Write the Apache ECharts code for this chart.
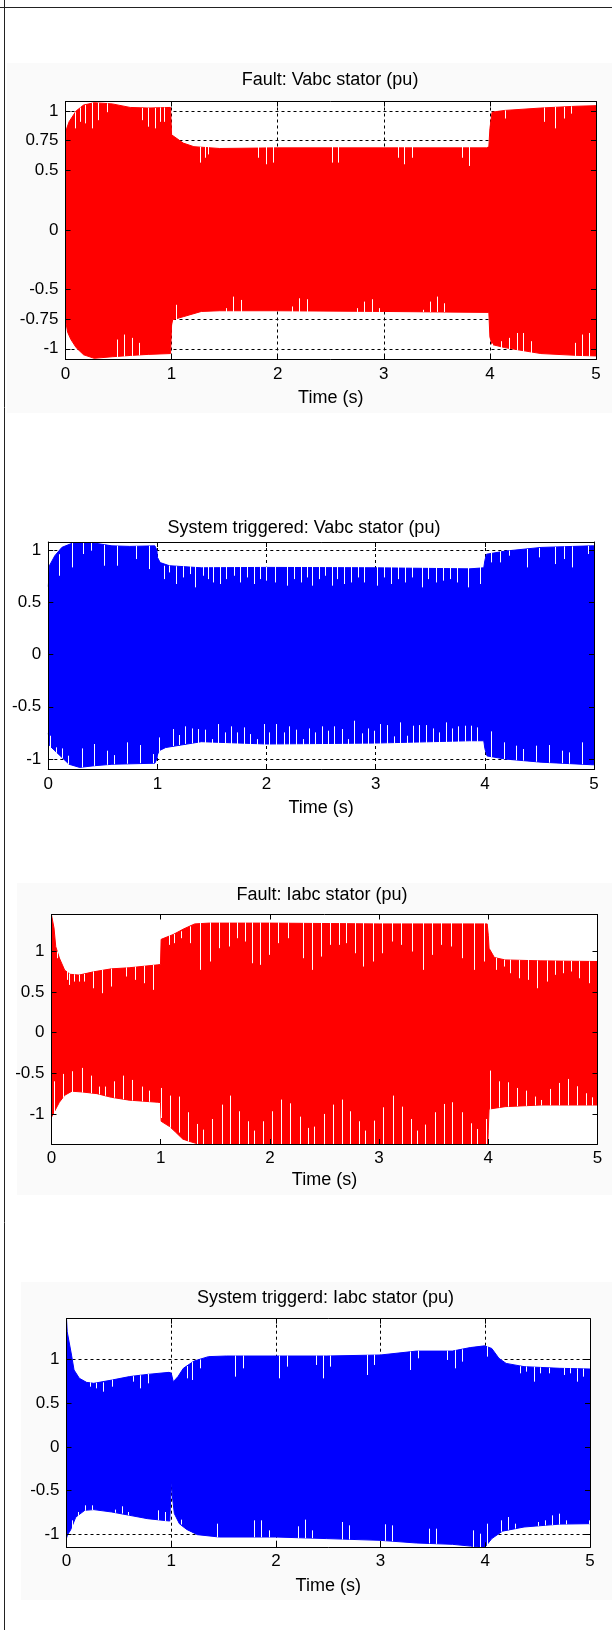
<!DOCTYPE html>
<html><head><meta charset="utf-8">
<script src="https://cdn.jsdelivr.net/npm/echarts@6/dist/echarts.min.js"></script>
<style>html,body{margin:0;padding:0;background:#fff}#c{width:612px;height:1630px}</style>
</head><body><div id="c"></div><script>
// ---------------- data ----------------
const titles = ['Fault: Vabc stator (pu)', 'System triggered: Vabc stator (pu)', 'Fault: Iabc stator (pu)', 'System triggerd: Iabc stator (pu)'];
const xLabel = 'Time (s)';
const xTicks = [0, 1, 2, 3, 4, 5];
const gridX = [1, 2, 3, 4];
const yTicksP1 = [-1, -0.75, -0.5, 0, 0.5, 0.75, 1];
const yTicks = [-1, -0.5, 0, 0.5, 1];
const yRanges = [[-1.09, 1.08], [-1.1, 1.077], [-1.37, 1.456], [-1.144, 1.459]];

// envelopes [time, value]
const p1Upper = [[0,0.64],[0.01,0.85],[0.034,0.91],[0.1,1.0],[0.17,1.05],[0.27,1.07],[0.44,1.06],[0.61,1.03],[0.78,1.025],[0.99,1.03],[1.0,0.8],[1.01,0.785],[1.11,0.73],[1.21,0.70],[1.45,0.685],[2.0,0.69],[3.0,0.69],[3.97,0.69],[3.99,0.70],[4.0,0.85],[4.02,0.99],[4.14,1.005],[4.48,1.025],[4.81,1.04],[5.0,1.045]];
const p1Lower = [[0,-0.76],[0.02,-0.86],[0.05,-0.92],[0.1,-0.99],[0.17,-1.05],[0.27,-1.08],[0.44,-1.067],[0.61,-1.056],[0.78,-1.047],[0.99,-1.04],[1.0,-0.8],[1.01,-0.756],[1.11,-0.73],[1.28,-0.686],[1.45,-0.68],[2.0,-0.68],[3.0,-0.686],[3.99,-0.694],[4.0,-0.9],[4.02,-0.964],[4.14,-0.99],[4.48,-1.04],[4.81,-1.055],[5.0,-1.06]];
// spikes [time, tip, base]
const p1SpikesUp = [[0.091,0.854,0.99],[0.135,0.909,1.03],[0.185,0.896,1.05],[0.253,0.854,1.07],[0.303,0.923,1.07],[0.387,0.99,1.065],[0.724,0.923,1.025],[0.774,0.868,1.025],[0.842,0.854,1.025],[0.892,0.909,1.03],[0.926,0.909,1.03],
 [1.269,0.566,0.70],[1.313,0.607,0.70],[1.347,0.635,0.70],[1.818,0.607,0.70],[1.892,0.552,0.70],[1.953,0.566,0.70],[2.515,0.566,0.70],[2.569,0.566,0.70],[3.131,0.607,0.70],[3.192,0.552,0.70],[3.266,0.607,0.70],[3.737,0.607,0.70],[3.805,0.538,0.70],
 [4.141,0.937,1.005],[4.512,0.909,1.03],[4.613,0.854,1.035],[4.697,0.937,1.035],[4.764,0.978,1.04]];
const p1SpikesDown = [[0.488,-0.922,-1.07],[0.556,-0.88,-1.065],[0.623,-0.908,-1.06],[0.69,-0.95,-1.055],[1.037,-0.63,-0.76],[1.515,-0.658,-0.69],[1.582,-0.561,-0.69],[1.65,-0.589,-0.69],[2.138,-0.644,-0.69],[2.199,-0.575,-0.69],[2.273,-0.583,-0.69],[2.744,-0.658,-0.69],[2.811,-0.603,-0.69],[2.889,-0.583,-0.69],[2.956,-0.658,-0.69],[3.374,-0.672,-0.69],[3.434,-0.603,-0.69],[3.502,-0.561,-0.69],[3.569,-0.617,-0.69],
 [4.024,-0.956,-0.975],[4.108,-0.936,-0.995],[4.182,-0.908,-1.005],[4.253,-0.867,-1.015],[4.316,-0.867,-1.025],[4.384,-0.936,-1.035],[4.805,-0.95,-1.06],[4.872,-0.88,-1.062],[4.933,-0.867,-1.065]];

const p2Upper = [[0,0.65],[0.01,0.85],[0.06,0.946],[0.125,1.026],[0.223,1.067],[0.42,1.067],[0.583,1.04],[0.747,1.035],[0.976,1.04],[0.995,1.0],[1.0,0.93],[1.025,0.88],[1.11,0.85],[1.402,0.83],[2.0,0.834],[3.0,0.83],[3.86,0.82],[3.99,0.83],[4.0,0.9],[4.015,0.96],[4.187,0.99],[4.515,1.025],[4.97,1.04],[5.0,1.04]];
const p2Lower = [[0,-0.75],[0.01,-0.87],[0.06,-0.92],[0.125,-0.984],[0.19,-1.05],[0.288,-1.08],[0.42,-1.064],[0.583,-1.05],[0.976,-1.04],[0.995,-1.0],[1.0,-0.96],[1.016,-0.92],[1.075,-0.89],[1.402,-0.834],[2.0,-0.856],[3.0,-0.847],[3.86,-0.825],[3.99,-0.825],[4.0,-0.9],[4.02,-0.97],[4.187,-1.0],[4.515,-1.03],[4.97,-1.054],[5.0,-1.055]];
const p2SpikesUp = [[0.098,0.754,0.96],[0.213,0.834,1.07],[0.321,0.962,1.07],[0.387,0.994,1.07],[0.511,0.85,1.05],[0.632,0.85,1.04],[0.806,0.914,1.04],[0.927,0.818,1.04],
 [1.058,0.722,0.85],[1.107,0.786,0.85],[1.166,0.675,0.845],[1.232,0.738,0.845],[1.298,0.77,0.845],[1.347,0.643,0.845],[1.419,0.754,0.845],[1.461,0.722,0.845],[1.51,0.69,0.845],[1.576,0.675,0.845],[1.632,0.722,0.845],[1.697,0.754,0.845],[1.756,0.69,0.845],[1.822,0.738,0.845],[1.884,0.675,0.845],[1.943,0.722,0.845],[1.992,0.707,0.845],[2.081,0.69,0.845],[2.189,0.659,0.845],[2.254,0.722,0.845],[2.313,0.69,0.845],[2.369,0.738,0.845],[2.418,0.659,0.845],[2.484,0.722,0.845],[2.533,0.754,0.845],[2.598,0.659,0.845],[2.647,0.722,0.845],[2.713,0.675,0.845],[2.772,0.69,0.845],[2.837,0.738,0.845],[2.893,0.69,0.845],[3.008,0.659,0.845],[3.073,0.738,0.845],[3.139,0.675,0.845],[3.204,0.722,0.845],[3.27,0.69,0.845],[3.335,0.738,0.845],[3.427,0.643,0.845],[3.483,0.722,0.845],[3.548,0.69,0.845],[3.614,0.707,0.845],[3.68,0.722,0.845],[3.745,0.69,0.845],[3.843,0.643,0.835],[3.958,0.675,0.84],
 [4.056,0.882,0.975],[4.138,0.882,0.99],[4.22,0.946,0.995],[4.384,0.834,1.01],[4.499,0.93,1.02],[4.646,0.866,1.03],[4.728,0.914,1.035],[4.8,0.834,1.035],[4.941,0.962,1.04]];
const p2SpikesDown = [[0.02,-0.777,-0.9],[0.075,-0.888,-0.94],[0.125,-0.898,-0.99],[0.183,-0.968,-1.05],[0.305,-0.898,-1.08],[0.419,-0.856,-1.065],[0.534,-0.92,-1.055],[0.6,-0.962,-1.05],[0.721,-0.84,-1.045],[0.839,-0.866,-1.04],[0.96,-0.952,-1.04],
 [1.016,-0.793,-0.93],[1.14,-0.713,-0.875],[1.199,-0.77,-0.865],[1.255,-0.687,-0.855],[1.32,-0.707,-0.85],[1.376,-0.713,-0.85],[1.435,-0.719,-0.85],[1.5,-0.809,-0.855],[1.556,-0.665,-0.86],[1.622,-0.745,-0.86],[1.671,-0.687,-0.86],[1.73,-0.745,-0.86],[1.789,-0.697,-0.865],[1.851,-0.761,-0.865],[1.91,-0.809,-0.865],[1.976,-0.665,-0.865],[2.025,-0.745,-0.865],[2.09,-0.665,-0.865],[2.156,-0.745,-0.865],[2.205,-0.687,-0.865],[2.271,-0.719,-0.865],[2.33,-0.809,-0.865],[2.385,-0.707,-0.86],[2.444,-0.745,-0.86],[2.507,-0.687,-0.86],[2.559,-0.729,-0.86],[2.621,-0.687,-0.86],[2.687,-0.713,-0.86],[2.746,-0.809,-0.86],[2.805,-0.633,-0.86],[2.87,-0.754,-0.86],[2.926,-0.707,-0.86],[2.982,-0.729,-0.86],[3.041,-0.665,-0.855],[3.1,-0.675,-0.855],[3.165,-0.783,-0.855],[3.221,-0.649,-0.855],[3.286,-0.777,-0.855],[3.342,-0.681,-0.85],[3.401,-0.675,-0.85],[3.457,-0.675,-0.85],[3.522,-0.707,-0.85],[3.581,-0.745,-0.845],[3.64,-0.649,-0.845],[3.696,-0.707,-0.84],[3.755,-0.687,-0.84],[3.82,-0.681,-0.835],[3.876,-0.681,-0.835],[3.932,-0.697,-0.835],
 [4.056,-0.735,-0.98],[4.178,-0.84,-1.0],[4.286,-0.872,-1.01],[4.351,-0.904,-1.015],[4.466,-0.872,-1.025],[4.59,-0.866,-1.035],[4.705,-0.92,-1.04],[4.77,-0.936,-1.045],[4.892,-0.84,-1.05]];

const p3Upper = [[0,1.45],[0.007,1.45],[0.023,1.29],[0.039,1.06],[0.072,0.92],[0.121,0.77],[0.17,0.72],[0.252,0.71],[0.384,0.75],[0.548,0.787],[0.711,0.80],[0.974,0.836],[0.998,0.84],[1.004,1.15],[1.016,1.17],[1.115,1.21],[1.213,1.28],[1.311,1.34],[1.443,1.35],[2.0,1.35],[3.0,1.34],[3.99,1.34],[4.0,1.2],[4.007,1.04],[4.056,0.926],[4.154,0.897],[4.482,0.885],[5.0,0.877]];
const p3Lower = [[0,-1.04],[0.007,-1.04],[0.039,-0.94],[0.072,-0.856],[0.121,-0.77],[0.187,-0.72],[0.285,-0.73],[0.416,-0.75],[0.548,-0.795],[0.711,-0.83],[0.974,-0.856],[0.998,-0.86],[1.004,-1.09],[1.016,-1.10],[1.082,-1.156],[1.138,-1.226],[1.203,-1.31],[1.269,-1.34],[1.367,-1.38],[3.995,-1.38],[4.0,-1.2],[4.007,-0.94],[4.154,-0.91],[4.482,-0.89],[5.0,-0.89]];
const p3SpikesUp = [[0.046,0.918,1.0],[0.138,0.651,0.76],[0.164,0.589,0.73],[0.203,0.63,0.72],[0.252,0.63,0.715],[0.302,0.63,0.725],[0.377,0.548,0.755],[0.466,0.487,0.775],[0.548,0.569,0.79],[0.679,0.692,0.805],[0.761,0.651,0.815],[0.843,0.61,0.825],[0.934,0.528,0.835],
 [1.072,1.082,1.2],[1.121,1.103,1.215],[1.187,1.164,1.25],[1.269,1.103,1.31],[1.361,0.774,1.36],[1.449,0.877,1.36],[1.531,1.041,1.36],[1.623,1.062,1.36],[1.695,1.164,1.36],[1.77,1.123,1.36],[1.833,0.856,1.36],[1.908,0.836,1.36],[1.99,0.959,1.36],[2.072,1.103,1.36],[2.17,1.164,1.36],[2.302,0.918,1.36],[2.384,0.774,1.36],[2.466,0.938,1.36],[2.548,1.082,1.36],[2.63,1.082,1.36],[2.695,1.103,1.36],[2.777,0.979,1.36],[2.852,0.815,1.36],[2.941,0.877,1.36],[3.023,0.979,1.36],[3.121,1.123,1.36],[3.203,1.082,1.36],[3.302,1.0,1.36],[3.4,0.774,1.36],[3.482,0.959,1.36],[3.564,1.082,1.36],[3.662,1.062,1.36],[3.761,0.918,1.36],[3.866,0.774,1.36],[3.957,0.877,1.36],
 [4.072,0.774,0.92],[4.144,0.815,0.9],[4.203,0.733,0.9],[4.285,0.671,0.895],[4.367,0.651,0.895],[4.449,0.548,0.89],[4.538,0.63,0.89],[4.613,0.713,0.888],[4.685,0.733,0.886],[4.761,0.754,0.884],[4.833,0.671,0.882],[4.918,0.61,0.88]];
const p3SpikesDown = [[0.023,-0.598,-1.0],[0.105,-0.507,-0.8],[0.187,-0.474,-0.73],[0.275,-0.433,-0.735],[0.361,-0.528,-0.745],[0.439,-0.663,-0.76],[0.489,-0.663,-0.775],[0.57,-0.598,-0.8],[0.656,-0.528,-0.82],[0.738,-0.581,-0.835],[0.826,-0.663,-0.845],[0.892,-0.713,-0.85],[1.0,-0.68,-1.05],
 [1.089,-0.774,-1.17],[1.17,-0.786,-1.23],[1.252,-0.979,-1.34],[1.334,-1.123,-1.38],[1.39,-1.193,-1.38],[1.472,-1.062,-1.38],[1.557,-0.885,-1.38],[1.639,-0.774,-1.38],[1.721,-0.967,-1.38],[1.803,-1.09,-1.38],[1.852,-1.205,-1.38],[1.938,-1.09,-1.38],[2.023,-0.967,-1.38],[2.105,-0.823,-1.38],[2.187,-0.869,-1.38],[2.272,-1.033,-1.38],[2.351,-1.172,-1.38],[2.407,-1.156,-1.38],[2.492,-1.0,-1.38],[2.574,-0.885,-1.38],[2.656,-0.823,-1.38],[2.738,-0.967,-1.38],[2.82,-1.09,-1.38],[2.875,-1.205,-1.38],[2.957,-1.082,-1.38],[3.039,-0.918,-1.38],[3.125,-0.774,-1.38],[3.207,-0.91,-1.38],[3.289,-1.062,-1.38],[3.351,-1.205,-1.38],[3.423,-1.131,-1.38],[3.508,-0.979,-1.38],[3.59,-0.877,-1.38],[3.672,-0.856,-1.38],[3.761,-0.979,-1.38],[3.843,-1.115,-1.38],[3.898,-1.185,-1.38],[3.98,-1.062,-1.38],
 [4.013,-0.466,-0.95],[4.095,-0.598,-0.92],[4.177,-0.61,-0.91],[4.262,-0.68,-0.905],[4.344,-0.713,-0.9],[4.43,-0.786,-0.895],[4.482,-0.828,-0.895],[4.564,-0.692,-0.895],[4.643,-0.618,-0.895],[4.728,-0.569,-0.895],[4.81,-0.659,-0.895],[4.892,-0.745,-0.895],[4.948,-0.795,-0.895]];

const p4Upper = [[0,1.46],[0.007,1.31],[0.021,1.30],[0.048,1.045],[0.072,0.875],[0.123,0.78],[0.192,0.734],[0.26,0.723],[0.432,0.76],[0.603,0.80],[0.774,0.825],[0.979,0.848],[1.0,0.84],[1.02,0.742],[1.065,0.80],[1.116,0.894],[1.219,0.977],[1.356,1.027],[1.527,1.034],[2.0,1.034],[2.486,1.034],[3.0,1.046],[3.342,1.09],[3.685,1.09],[3.856,1.13],[3.993,1.15],[4.062,1.12],[4.13,1.008],[4.199,0.95],[4.37,0.913],[4.712,0.894],[5.0,0.886]];
const p4Lower = [[0,-1.04],[0.01,-1.0],[0.038,-0.95],[0.089,-0.80],[0.175,-0.723],[0.26,-0.715],[0.432,-0.742],[0.603,-0.78],[0.774,-0.818],[0.986,-0.845],[1.0,-0.85],[1.004,-0.34],[1.01,-0.55],[1.03,-0.76],[1.078,-0.875],[1.147,-0.94],[1.25,-1.0],[1.459,-1.027],[2.0,-1.027],[2.486,-1.045],[3.0,-1.065],[3.342,-1.095],[3.685,-1.11],[3.856,-1.13],[3.993,-1.15],[4.062,-1.045],[4.164,-0.96],[4.37,-0.913],[4.712,-0.88],[5.0,-0.875]];
const p4SpikesUp = [[0.226,0.685,0.735],[0.277,0.666,0.73],[0.346,0.628,0.735],[0.432,0.685,0.765],[0.637,0.742,0.805],[0.705,0.666,0.815],[0.774,0.723,0.83],[1.151,0.78,0.92],[1.202,0.761,0.965],[1.271,0.894,0.995],[1.613,0.799,1.04],[1.682,0.894,1.04],[2.034,0.78,1.04],[2.103,0.913,1.04],[2.384,0.932,1.04],[2.452,0.78,1.04],[2.521,0.913,1.04],[2.87,0.818,1.05],[2.938,0.932,1.05],[3.284,0.875,1.085],[3.36,1.008,1.095],[3.634,0.989,1.095],[3.712,0.894,1.1],[3.781,0.97,1.11],[4.021,1.027,1.145],
 [4.336,0.837,0.918],[4.387,0.856,0.915],[4.462,0.742,0.912],[4.524,0.837,0.905],[4.61,0.837,0.9],[4.747,0.818,0.897],[4.805,0.837,0.895],[4.873,0.742,0.892],[4.935,0.799,0.89]];
const p4SpikesDown = [[0.048,-0.837,-0.95],[0.106,-0.742,-0.785],[0.175,-0.666,-0.728],[0.243,-0.666,-0.72],[0.459,-0.715,-0.75],[0.527,-0.677,-0.76],[0.592,-0.742,-0.78],[0.877,-0.723,-0.835],[0.938,-0.742,-0.845],[1.089,-0.829,-0.885],[1.442,-0.875,-1.03],[1.791,-0.837,-1.03],[1.86,-0.837,-1.03],[1.932,-0.951,-1.03],[2.212,-0.905,-1.04],[2.281,-0.829,-1.04],[2.349,-0.951,-1.04],[2.63,-0.856,-1.055],[2.699,-0.894,-1.055],[3.041,-0.882,-1.07],[3.113,-0.894,-1.075],[3.462,-0.932,-1.1],[3.531,-0.932,-1.105],[3.884,-0.951,-1.15],[3.952,-0.989,-1.15],[4.017,-0.875,-1.12],
 [4.147,-0.837,-0.965],[4.216,-0.799,-0.945],[4.284,-0.875,-0.93],[4.5,-0.856,-0.9],[4.568,-0.837,-0.895],[4.637,-0.78,-0.89],[4.705,-0.761,-0.885],[4.774,-0.837,-0.882],[4.986,-0.837,-0.878]];

// ---------------- layout / style ----------------
const RED = '#ff0000', BLUE = '#0000ff';
const FONT = '"Liberation Sans", Arial, sans-serif';
const panels = [
  {upper: p1Upper, lower: p1Lower, up: p1SpikesUp, down: p1SpikesDown, ticks: yTicksP1, color: RED, grid: true,
   box: {l: 65.5, t: 101.5, r: 596, b: 359.5}, titleX: 330, titleY: 71, nameGap: 30},
  {upper: p2Upper, lower: p2Lower, up: p2SpikesUp, down: p2SpikesDown, ticks: yTicks, color: BLUE, grid: true,
   box: {l: 48.3, t: 542, r: 594, b: 769.5}, titleX: 304, titleY: 519, nameGap: 30},
  {upper: p3Upper, lower: p3Lower, up: p3SpikesUp, down: p3SpikesDown, ticks: yTicks, color: RED, grid: false,
   box: {l: 51.5, t: 914.5, r: 597.5, b: 1144}, titleX: 322, titleY: 886, nameGap: 27},
  {upper: p4Upper, lower: p4Lower, up: p4SpikesUp, down: p4SpikesDown, ticks: yTicks, color: BLUE, grid: true,
   box: {l: 66.5, t: 1318.7, r: 590, b: 1547.3}, titleX: 325.5, titleY: 1289, nameGap: 30}
];

const grids = [], xAxes = [], yAxes = [], series = [], titleOpts = [];
const txt = {color: '#000', fontFamily: FONT};
const dashed = {color: '#000', width: 1, type: [3, 3]};

function spikeRender(params, api) {
  const a = api.coord([api.value(0), api.value(1)]);
  const b = api.coord([api.value(0), api.value(2)]);
  const x = Math.round(a[0]) + 0.5;
  return {type: 'line', shape: {x1: x, y1: a[1], x2: x, y2: b[1]}, style: {stroke: '#ffffff', lineWidth: 1}};
}

panels.forEach((p, i) => {
  const [ymin, ymax] = yRanges[i];
  grids.push({left: p.box.l, top: p.box.t, width: p.box.r - p.box.l, height: p.box.b - p.box.t,
    show: true, backgroundColor: '#ffffff', borderWidth: 0, containLabel: false, outerBoundsMode: 'none'});
  titleOpts.push({text: titles[i], left: p.titleX, top: p.titleY, textAlign: 'center', padding: 0,
    textStyle: Object.assign({fontSize: 18, fontWeight: 'normal'}, txt)});
  const axLine = {show: true, onZero: false, lineStyle: {color: '#000', width: 1}};
  const tick = {show: true, inside: true, length: 5, lineStyle: {color: '#000', width: 1}};
  // x: bottom (labels), top (box), grid lines
  xAxes.push({gridIndex: i, type: 'value', min: xTicks[0], max: xTicks[xTicks.length - 1], interval: 1, position: 'bottom', z: 10,
    axisLine: axLine, axisTick: tick, splitLine: {show: false},
    axisLabel: Object.assign({margin: 6, fontSize: 17}, txt),
    name: xLabel, nameLocation: 'middle', nameGap: p.nameGap, nameTextStyle: Object.assign({fontSize: 18}, txt)});
  xAxes.push({gridIndex: i, type: 'value', min: xTicks[0], max: xTicks[xTicks.length - 1], interval: 1, position: 'top', z: 10,
    axisLine: axLine, axisTick: tick, splitLine: {show: false}, axisLabel: {show: false}});
  xAxes.push({gridIndex: i, type: 'value', min: xTicks[0], max: xTicks[xTicks.length - 1], position: 'bottom', z: 0,
    axisLine: {show: false, onZero: false}, axisTick: {show: false, customValues: gridX}, axisLabel: {show: false},
    splitLine: {show: p.grid, lineStyle: dashed}});
  // y: left (labels), right (box), grid lines
  yAxes.push({gridIndex: i, type: 'value', min: ymin, max: ymax, position: 'left', z: 10,
    axisLine: axLine, axisTick: Object.assign({customValues: p.ticks}, tick), splitLine: {show: false},
    axisLabel: Object.assign({margin: 7, fontSize: 17, customValues: p.ticks}, txt)});
  yAxes.push({gridIndex: i, type: 'value', min: ymin, max: ymax, position: 'right', z: 10,
    axisLine: axLine, axisTick: Object.assign({customValues: p.ticks}, tick), splitLine: {show: false}, axisLabel: {show: false}});
  yAxes.push({gridIndex: i, type: 'value', min: ymin, max: ymax, position: 'left', z: 0,
    axisLine: {show: false, onZero: false}, axisTick: {show: false, customValues: p.ticks}, axisLabel: {show: false},
    splitLine: {show: p.grid, lineStyle: dashed}});

  const xi = i * 3, yi = i * 3;
  // upper envelope fills down past zero and lower envelope fills up past zero, so the two fills overlap (no seam)
  [[p.upper, -0.3], [p.lower, 0.3]].forEach(([d, org]) => series.push({type: 'line', xAxisIndex: xi, yAxisIndex: yi, data: d, symbol: 'none',
    showSymbol: false, smooth: false, sampling: 'none', z: 2, silent: true, animation: false,
    lineStyle: {color: p.color, width: 1}, areaStyle: {color: p.color, opacity: 1, origin: org}}));
  series.push({type: 'custom', xAxisIndex: xi, yAxisIndex: yi, data: p.up.concat(p.down), renderItem: spikeRender,
    encode: {x: 0, y: [1, 2]}, clip: true, z: 3, silent: true, animation: false});
});

const chart = echarts.init(document.getElementById('c'), null, {renderer: 'canvas'});
chart.setOption({
  backgroundColor: '#ffffff',
  animation: false,
  title: titleOpts,
  grid: grids, xAxis: xAxes, yAxis: yAxes, series: series,
  graphic: [
    {type: 'rect', z: -10, shape: {x: 7, y: 63, width: 605, height: 350}, style: {fill: '#fafafa'}},
    {type: 'rect', z: -10, shape: {x: 17, y: 883, width: 595, height: 312}, style: {fill: '#fafafa'}},
    {type: 'rect', z: -10, shape: {x: 21, y: 1282, width: 591, height: 318}, style: {fill: '#fafafa'}},
    {type: 'line', z: 50, shape: {x1: 0, y1: 7.5, x2: 612, y2: 7.5}, style: {stroke: '#222', lineWidth: 1}},
    {type: 'line', z: 50, shape: {x1: 4.5, y1: 0, x2: 4.5, y2: 1630}, style: {stroke: '#222', lineWidth: 1}}
  ]
});
</script></body></html>
